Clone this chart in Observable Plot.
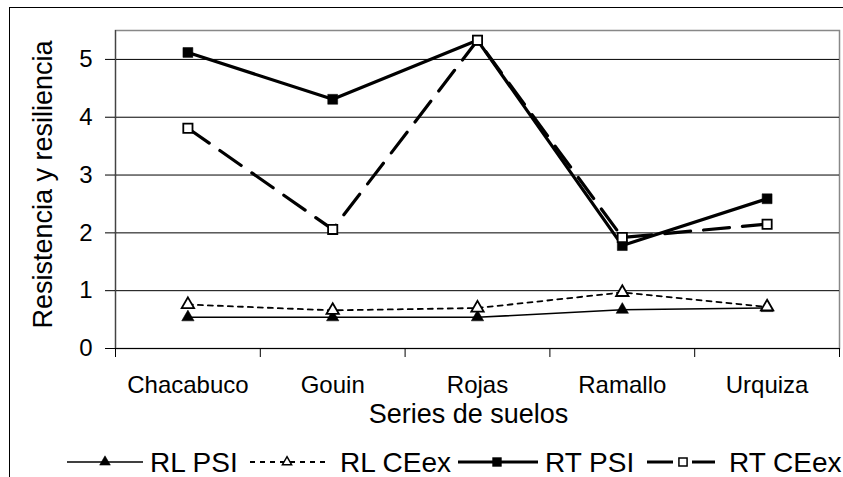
<!DOCTYPE html>
<html><head><meta charset="utf-8">
<script src="https://cdn.jsdelivr.net/npm/d3@7"></script>
<script src="https://cdn.jsdelivr.net/npm/@observablehq/plot@0.6"></script>
<style>
body{margin:0;background:#fff;font-family:"Liberation Sans",Arial,sans-serif;}
#wrap{position:absolute;left:0;top:0;width:843px;height:477px;overflow:hidden;background:#fff;}
#border{position:absolute;left:9px;top:7px;width:900px;height:500px;border-left:1.5px solid #000;border-top:1.5px solid #000;}
#chart{position:absolute;left:0;top:0;}
#legend{position:absolute;left:0;top:440px;}
</style></head><body>
<div id="wrap"><div id="border"></div><div id="chart"></div><div id="legend"></div></div>
<script>
// ---- data ----
const categories = ["Chacabuco", "Gouin", "Rojas", "Ramallo", "Urquiza"];
const rlPsi  = [0.54, 0.54, 0.54, 0.67, 0.70];
const rlCeex = [0.76, 0.66, 0.70, 0.97, 0.72];
const rtPsi  = [5.12, 4.31, 5.33, 1.78, 2.59];
const rtCeex = [3.81, 2.06, 5.33, 1.92, 2.15];
const yTicks = [0, 1, 2, 3, 4, 5];
const seriesNames = ["RL PSI", "RL CEex", "RT PSI", "RT CEex"];
const xLabel = "Series de suelos";
const yLabel = "Resistencia y resiliencia";

// ---- styles ----
const seriesValues = [rlPsi, rlCeex, rtPsi, rtCeex];
const styles = [
  {width: 1.6, dash: null, legendDash: null, symbol: "triangle", fill: "#000", r: 4.6, lr: 4.0},
  {width: 1.8, dash: "5,5", legendDash: "5,5", symbol: "triangle", fill: "#fff", r: 4.6, lr: 3.4},
  {width: 3.2, dash: null, legendDash: null, symbol: "square", fill: "#000", r: 5.6, lr: 5.0},
  {width: 3.2, dash: "26,13", legendDash: "26,19", symbol: "square", fill: "#fff", r: 5.2, lr: 4.6}
];

const rows = seriesNames.map((name, s) =>
  seriesValues[s].map((v, i) => ({series: name, i, category: categories[i], value: v})));

const marks = [
  Plot.frame({stroke: "#888", strokeWidth: 1.5}),
  Plot.ruleY(yTicks.filter(d => d > 0), {stroke: "#000", strokeWidth: 1}),
  Plot.ruleX([0], {stroke: "#444", strokeWidth: 1.2}),
  Plot.ruleY([0], {stroke: "#000", strokeWidth: 1.2}),
  Plot.axisY({ticks: yTicks, tickSize: 10, tickPadding: 13, tickFormat: d3.format("d"), label: null, stroke: "#000"}),
  Plot.axisX({ticks: d3.range(categories.length + 1), tickSize: 9, tickFormat: () => "", label: null, stroke: "#000"}),
  Plot.axisX({ticks: categories.map((_, i) => i + 0.5), tickSize: 0, tickPadding: 27,
              tickFormat: d => categories[Math.floor(d)], label: null}),
  Plot.text([xLabel], {text: d => d, frameAnchor: "bottom", textAnchor: "middle", dy: 74, dx: -9, fontSize: 27}),
  Plot.text([yLabel], {text: d => d, frameAnchor: "left", textAnchor: "middle", rotate: -90, dx: -72, dy: -5, fontSize: 27})
];
rows.forEach((data, s) => {
  const st = styles[s];
  marks.push(Plot.line(data, {x: d => d.i + 0.5, y: "value", stroke: "#000", strokeWidth: st.width,
    strokeDasharray: st.dash, strokeLinejoin: "round"}));
  marks.push(Plot.dot(data, {x: d => d.i + 0.5, y: "value", symbol: st.symbol, r: st.r,
    fill: st.fill, stroke: "#000", strokeWidth: st.fill === "#fff" ? 1.8 : 0.5}));
});

const chart = Plot.plot({
  width: 843, height: 440,
  marginLeft: 115, marginRight: 4, marginTop: 30, marginBottom: 92,
  style: {fontSize: "24px", fontFamily: "'Liberation Sans', Arial, sans-serif", color: "#000", background: "transparent", overflow: "visible"},
  x: {type: "linear", domain: [0, categories.length]},
  y: {domain: [0, 5.5]},
  marks
});
document.getElementById("chart").appendChild(chart);

// ---- legend ----
const layout = [
  {x1: 67, x2: 143, mx: 105, tx: 150},
  {x1: 250, x2: 330, mx: 287, tx: 340},
  {x1: 458, x2: 538, mx: 497, tx: 545},
  {x1: 647, x2: 715, mx: 683, tx: 729}
];
const lsvg = d3.select("#legend").append("svg").attr("width", 843).attr("height", 37)
  .style("overflow", "visible")
  .style("font-family", "'Liberation Sans', Arial, sans-serif");
seriesNames.forEach((name, s) => {
  const st = styles[s], L = layout[s];
  lsvg.append("line").attr("x1", L.x1).attr("x2", L.x2).attr("y1", 22).attr("y2", 22)
    .attr("stroke", "#000").attr("stroke-width", st.width)
    .attr("stroke-dasharray", st.legendDash);
  const sym = st.symbol === "square" ? d3.symbolSquare : d3.symbolTriangle;
  lsvg.append("path").attr("d", d3.symbol(sym, Math.PI * st.lr * st.lr)())
    .attr("transform", `translate(${L.mx},22)`)
    .attr("fill", st.fill).attr("stroke", "#000").attr("stroke-width", st.fill === "#fff" ? 1.5 : 0.5);
  lsvg.append("text").attr("x", L.tx).attr("y", 32).attr("font-size", 28).attr("fill", "#000").text(name);
});
</script>
</body></html>
